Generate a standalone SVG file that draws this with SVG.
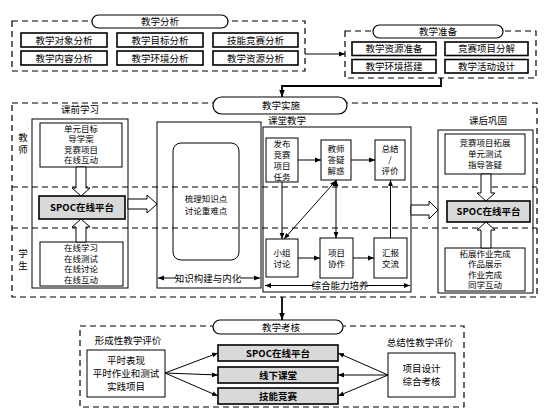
<svg xmlns="http://www.w3.org/2000/svg" width="550" height="417" viewBox="0 0 550 417">
<style>
.t{font-family:"Noto Sans CJK SC","Liberation Serif",sans-serif;font-size:9.5px;fill:#000;text-anchor:middle}
.s{font-size:8.5px}
.b{font-weight:bold}
.box{fill:#fff;stroke:#000;stroke-width:1}
.col{fill:none;stroke:#000;stroke-width:1}
.tb{fill:#fff;stroke:#000;stroke-width:1.6}
.gray{fill:#d9d9d9;stroke:#000;stroke-width:1.6}
.dash{fill:none;stroke:#000;stroke-width:1.2;stroke-dasharray:6 4}
.oval{fill:#fff;stroke:#000;stroke-width:1.2}
.ln{fill:none;stroke:#000;stroke-width:1}
.thick{fill:none;stroke:#000;stroke-width:1.8}
.ha{fill:#fff;stroke:#000;stroke-width:1}
</style>
<defs>
<marker id="a" viewBox="0 0 10 10" refX="10" refY="5" markerWidth="6" markerHeight="6" orient="auto-start-reverse"><path d="M0,1 L10,5 L0,9 z"/></marker>
<marker id="ab" viewBox="0 0 10 10" refX="10" refY="5" markerWidth="4" markerHeight="4" orient="auto-start-reverse"><path d="M0,1 L10,5 L0,9 z"/></marker>
</defs>

<!-- 教学分析 -->
<g id="analysis">
<rect class="dash" x="12" y="21" width="293" height="50"/>
<rect class="oval" x="92" y="15" width="136" height="13" rx="6.5"/>
<text class="t" x="160" y="25">教学分析</text>
<rect class="tb" x="21" y="33" width="86" height="14"/>
<rect class="tb" x="117" y="33" width="86" height="14"/>
<rect class="tb" x="213" y="33" width="85" height="14"/>
<rect class="tb" x="21" y="51" width="86" height="14"/>
<rect class="tb" x="117" y="51" width="86" height="14"/>
<rect class="tb" x="213" y="51" width="85" height="14"/>
<text class="t" x="64" y="43.5">教学对象分析</text>
<text class="t" x="160" y="43.5">教学目标分析</text>
<text class="t" x="255.5" y="43.5">技能竞赛分析</text>
<text class="t" x="64" y="61.5">教学内容分析</text>
<text class="t" x="160" y="61.5">教学环境分析</text>
<text class="t" x="255.5" y="61.5">教学资源分析</text>
</g>

<!-- 教学准备 -->
<g id="prep">
<rect class="dash" x="345" y="31" width="191" height="47"/>
<rect class="oval" x="373" y="25" width="130" height="13" rx="6.5"/>
<text class="t" x="438" y="35">教学准备</text>
<rect class="tb" x="352" y="42" width="84" height="13.5"/>
<rect class="tb" x="445" y="42" width="83" height="13.5"/>
<rect class="tb" x="352" y="59.5" width="84" height="13.5"/>
<rect class="tb" x="445" y="59.5" width="83" height="13.5"/>
<text class="t" x="394" y="52">教学资源准备</text>
<text class="t" x="486.5" y="52">竞赛项目分解</text>
<text class="t" x="394" y="69.5">教学环境搭建</text>
<text class="t" x="486.5" y="69.5">教学活动设计</text>
</g>

<!-- 教学实施 frame -->
<g id="impl">
<rect class="dash" x="12" y="103" width="525" height="194"/>
<line class="dash" x1="12" y1="187" x2="537" y2="187"/>
<line class="dash" x1="12" y1="228" x2="537" y2="228"/>
<rect class="oval" x="213" y="97" width="134" height="17" rx="8.5"/>
<text class="t" x="281" y="109">教学实施</text>
</g>

<!-- 课前学习 -->
<g id="pre">
<text class="t" x="80" y="113">课前学习</text>
<text class="t" x="23" y="140.5">教</text>
<text class="t" x="23" y="153">师</text>
<text class="t" x="23" y="256.5">学</text>
<text class="t" x="23" y="269">生</text>
<rect class="col" x="32" y="119" width="96" height="169"/>
<rect class="box" x="40" y="123" width="82" height="44"/>
<text class="t s" x="81" y="131.5">单元目标</text>
<text class="t s" x="81" y="142">导学案</text>
<text class="t s" x="81" y="152.5">竞赛项目</text>
<text class="t s" x="81" y="163">在线互动</text>
<rect class="gray" x="39" y="196" width="86" height="23"/>
<text class="t b" x="82" y="211">SPOC在线平台</text>
<rect class="box" x="40" y="242" width="83" height="44"/>
<text class="t s" x="81" y="251">在线学习</text>
<text class="t s" x="81" y="261.5">在线测试</text>
<text class="t s" x="81" y="272">在线讨论</text>
<text class="t s" x="81" y="282.5">在线互动</text>
</g>

<!-- 知识构建 -->
<g id="know">
<rect class="col" x="157" y="122" width="104" height="166"/>
<rect class="col" x="173" y="143" width="66" height="117" rx="8"/>
<text class="t s" x="206" y="202">梳理知识点</text>
<text class="t s" x="206" y="213.5">讨论重难点</text>
<text class="t" x="208" y="281.5">知识构建与内化</text>
</g>

<!-- 课堂教学 -->
<g id="class">
<rect class="col" x="263" y="127" width="148" height="165"/>
<text class="t" x="287" y="124">课堂教学</text>
<text class="t" x="340" y="289">综合能力培养</text>
</g>
<g id="n-fabu">
<rect class="box" x="266" y="138" width="32" height="44"/>
<text class="t s" x="282" y="146.5">发布</text>
<text class="t s" x="282" y="157.5">竞赛</text>
<text class="t s" x="282" y="168.5">项目</text>
<text class="t s" x="282" y="179.5">任务</text>
</g>
<g id="n-dayi">
<rect class="box" x="321" y="140" width="30" height="40"/>
<text class="t s" x="336" y="152">教师</text>
<text class="t s" x="336" y="163">答疑</text>
<text class="t s" x="336" y="174">解惑</text>
</g>
<g id="n-zongjie">
<rect class="box" x="375" y="140" width="30" height="40"/>
<text class="t s" x="390" y="152">总结</text>
<text class="t s" x="390" y="163">/</text>
<text class="t s" x="390" y="174">评价</text>
</g>
<g id="n-xiaozu">
<rect class="box" x="266" y="239" width="32" height="38"/>
<text class="t s" x="282" y="255.5">小组</text>
<text class="t s" x="282" y="266.5">讨论</text>
</g>
<g id="n-xiezuo">
<rect class="box" x="320" y="238" width="33" height="40"/>
<text class="t s" x="336.5" y="255.5">项目</text>
<text class="t s" x="336.5" y="266.5">协作</text>
</g>
<g id="n-huibao">
<rect class="box" x="374" y="238" width="33" height="40"/>
<text class="t s" x="390.5" y="255.5">汇报</text>
<text class="t s" x="390.5" y="266.5">交流</text>
</g>

<!-- 课后巩固 -->
<g id="post">
<text class="t" x="488" y="123.5">课后巩固</text>
<rect class="col" x="438" y="130" width="95" height="163"/>
<rect class="box" x="445" y="134" width="80" height="40"/>
<text class="t s" x="485" y="146">竞赛项目拓展</text>
<text class="t s" x="485" y="157">单元测试</text>
<text class="t s" x="485" y="168">指导答疑</text>
<rect class="gray" x="447" y="201" width="83" height="21"/>
<text class="t b" x="488.5" y="215">SPOC在线平台</text>
<rect class="box" x="445" y="248" width="80" height="43"/>
<text class="t s" x="485" y="256.5">拓展作业完成</text>
<text class="t s" x="485" y="267">作品展示</text>
<text class="t s" x="485" y="277.5">作业完成</text>
<text class="t s" x="485" y="288">同学互动</text>
</g>

<!-- 教学考核 -->
<g id="assess">
<rect class="dash" x="80" y="326" width="384" height="81"/>
<rect class="oval" x="213" y="320" width="130" height="14" rx="7"/>
<text class="t" x="281" y="330.5">教学考核</text>
<text class="t" x="128" y="343.5">形成性教学评价</text>
<text class="t" x="420" y="345.5">总结性教学评价</text>
</g>
<g id="n-form">
<rect class="box" x="87" y="350" width="78" height="47"/>
<text class="t" x="126" y="363.5">平时表现</text>
<text class="t" x="126" y="376.5">平时作业和测试</text>
<text class="t" x="126" y="389.5">实践项目</text>
</g>
<g id="n-spoc3">
<rect class="gray" x="218" y="345" width="120" height="16"/>
<text class="t b" x="278" y="356.5">SPOC在线平台</text>
</g>
<g id="n-xianxia">
<rect class="gray" x="218" y="367" width="120" height="16"/>
<text class="t b" x="278" y="378.5">线下课堂</text>
</g>
<g id="n-jineng">
<rect class="gray" x="218" y="388" width="120" height="16"/>
<text class="t b" x="278" y="399.5">技能竞赛</text>
</g>
<g id="n-sum">
<rect class="box" x="388" y="353" width="67" height="44"/>
<text class="t" x="421.5" y="372">项目设计</text>
<text class="t" x="421.5" y="385">综合考核</text>
</g>

<!-- connectors -->
<g id="connectors">
<line class="ln" x1="305" y1="54" x2="345" y2="54" marker-end="url(#a)"/>
<path class="thick" d="M441,78 V86 H282 V97" marker-end="url(#ab)"/>
<line class="thick" x1="282" y1="297" x2="282" y2="320" marker-end="url(#ab)"/>
<path class="ha" d="M76,167 V188 H72 L81,196 L90,188 H86 V167 Z"/>
<path class="ha" d="M76,242 V227 H72 L81,219 L90,227 H86 V242 Z"/>
<path class="ha" d="M128,199 H147 V195 L157,204 L147,213 V209 H128 Z"/>
<path class="ha" d="M411,205 H429 V201 L438,210 L429,219 V215 H411 Z"/>
<path class="ha" d="M481,174 V193 H477 L486,201 L495,193 H491 V174 Z"/>
<path class="ha" d="M481,248 V230 H477 L486,222 L495,230 H491 V248 Z"/>
<line class="ln" x1="176" y1="278" x2="158" y2="278" marker-end="url(#a)"/>
<line class="ln" x1="240" y1="278" x2="260" y2="278" marker-end="url(#a)"/>
<line class="ln" x1="313" y1="285.5" x2="265" y2="285.5" marker-end="url(#a)"/>
<line class="ln" x1="367" y1="285.5" x2="410" y2="285.5" marker-end="url(#a)"/>
<line class="ln" x1="298" y1="160" x2="321" y2="160" marker-end="url(#a)"/>
<line class="ln" x1="351" y1="160" x2="375" y2="160" marker-end="url(#a)"/>
<line class="ln" x1="298" y1="258" x2="320" y2="258" marker-end="url(#a)"/>
<line class="ln" x1="353" y1="258" x2="374" y2="258" marker-end="url(#a)"/>
<line class="ln" x1="390.5" y1="238" x2="390.5" y2="180" marker-end="url(#a)"/>
<line class="ln" x1="282" y1="182" x2="282" y2="239" marker-end="url(#a)"/>
<line class="ln" x1="336" y1="180" x2="336" y2="238" marker-start="url(#a)" marker-end="url(#a)"/>
<line class="ln" x1="284" y1="239" x2="336" y2="180.5" marker-start="url(#a)" marker-end="url(#a)"/>
<line class="ln" x1="165" y1="373" x2="218" y2="353" marker-end="url(#a)"/>
<line class="ln" x1="165" y1="373" x2="218" y2="375" marker-end="url(#a)"/>
<line class="ln" x1="165" y1="373" x2="218" y2="396" marker-end="url(#a)"/>
<line class="ln" x1="388" y1="375" x2="338" y2="353" marker-end="url(#a)"/>
<line class="ln" x1="388" y1="375" x2="338" y2="375" marker-end="url(#a)"/>
<line class="ln" x1="388" y1="375" x2="338" y2="396" marker-end="url(#a)"/>
</g>
</svg>
